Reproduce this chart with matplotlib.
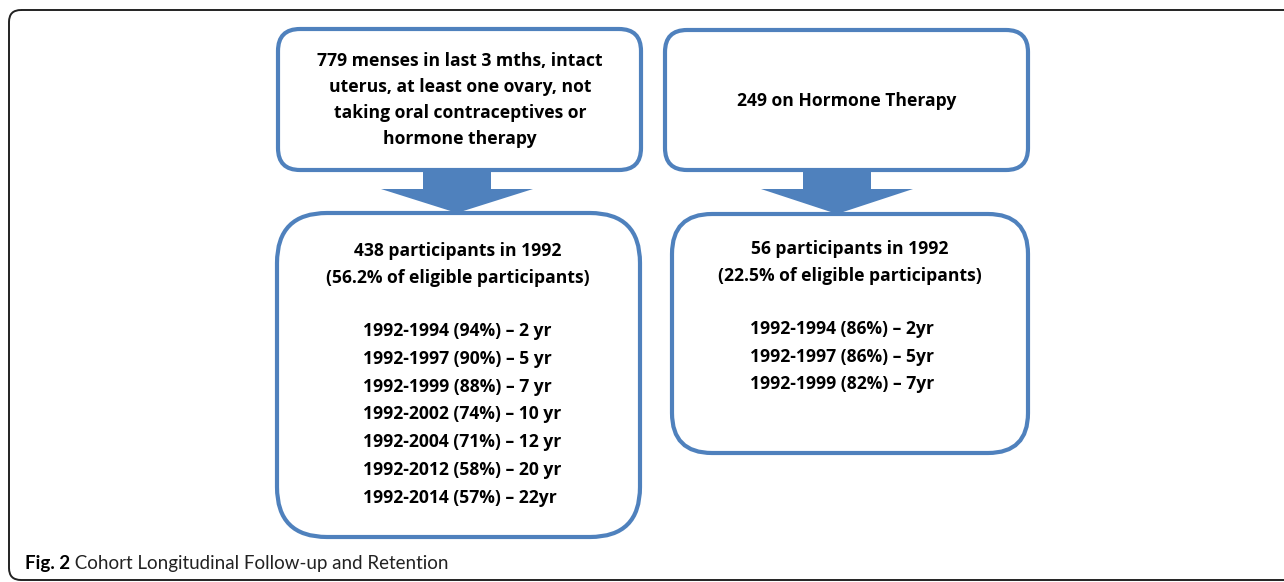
import matplotlib
matplotlib.use('Agg')
import matplotlib.pyplot as plt
from matplotlib.patches import FancyBboxPatch, Polygon

# text content of the flow chart
box1_lines = ['779 menses in last 3 mths, intact', 'uterus, at least one ovary, not',
              'taking oral contraceptives or', 'hormone therapy']
box2_lines = ['249 on Hormone Therapy']
box3_head = ['438 participants in 1992', '(56.2% of eligible participants)']
box3_list = ['1992-1994 (94%) \u2013 2 yr', '1992-1997 (90%) \u2013 5 yr', '1992-1999 (88%) \u2013 7 yr',
             '1992-2002 (74%) \u2013 10 yr', '1992-2004 (71%) \u2013 12 yr', '1992-2012 (58%) \u2013 20 yr',
             '1992-2014 (57%) \u2013 22yr']
box4_head = ['56 participants in 1992', '(22.5% of eligible participants)']
box4_list = ['1992-1994 (86%) \u2013 2yr', '1992-1997 (86%) \u2013 5yr', '1992-1999 (82%) \u2013 7yr']
caption_bold = 'Fig. 2'
caption_rest = ' Cohort Longitudinal Follow-up and Retention'

BLUE = '#4F81BD'
FONT = ['Open Sans', 'DejaVu Sans']
FS = 12.6

fig = plt.figure(figsize=(12.84, 5.82), dpi=100)
ax = fig.add_axes([0, 0, 1, 1])
ax.set_xlim(0, 1284)
ax.set_ylim(582, 0)
ax.axis('off')

# outer frame
ax.add_patch(FancyBboxPatch((9, 10), 1320, 570, boxstyle='round,pad=0,rounding_size=12',
                            fc='none', ec='#222222', lw=1.4, clip_on=False))


def rbox(x0, y0, x1, y1, r):
    ax.add_patch(FancyBboxPatch((x0, y0), x1 - x0, y1 - y0,
                                boxstyle='round,pad=0,rounding_size=%d' % r,
                                fc='white', ec=BLUE, lw=3.0))


def arrow(cx, y_top, y_neck, y_tip, shaft_w, head_w):
    pts = [(cx - shaft_w / 2, y_top), (cx + shaft_w / 2, y_top), (cx + shaft_w / 2, y_neck),
           (cx + head_w / 2, y_neck), (cx, y_tip), (cx - head_w / 2, y_neck),
           (cx - shaft_w / 2, y_neck)]
    ax.add_patch(Polygon(pts, closed=True, fc=BLUE, ec='none', zorder=3))


rbox(278, 29, 641, 170, 22)
rbox(665, 30, 1028, 170, 22)
rbox(277, 213, 640, 537, 50)
rbox(672, 214, 1028, 453, 40)
arrow(457, 170, 189, 213, 68, 152)
arrow(837, 170, 189, 214, 68, 152)


def lines(x, ys, texts, ha='center', fs=FS):
    for y, t in zip(ys, texts):
        ax.text(x, y, t, ha=ha, va='center', fontsize=fs, fontweight='bold',
                family=FONT, color='black')


lines(460, [61, 87, 113, 139], box1_lines)
lines(847, [101], box2_lines)
lines(458, [251, 278], box3_head)
lines(363, [331 + 27.8 * i for i in range(len(box3_list))], box3_list, ha='left')
lines(850, [249, 276], box4_head)
lines(750, [329 + 27.5 * i for i in range(len(box4_list))], box4_list, ha='left')

# caption
cap_font = ['Lato', 'DejaVu Sans']
t1 = ax.text(25, 563, caption_bold, ha='left', va='center', fontsize=13.5,
             fontweight='bold', family=cap_font, color='black')
fig.canvas.draw()
bb = t1.get_window_extent()
x_end = ax.transData.inverted().transform((bb.x1, bb.y0))[0]
ax.text(x_end, 563, caption_rest, ha='left', va='center', fontsize=13.5,
        family=cap_font, color='#222222')

fig.savefig('out.png', dpi=100)
